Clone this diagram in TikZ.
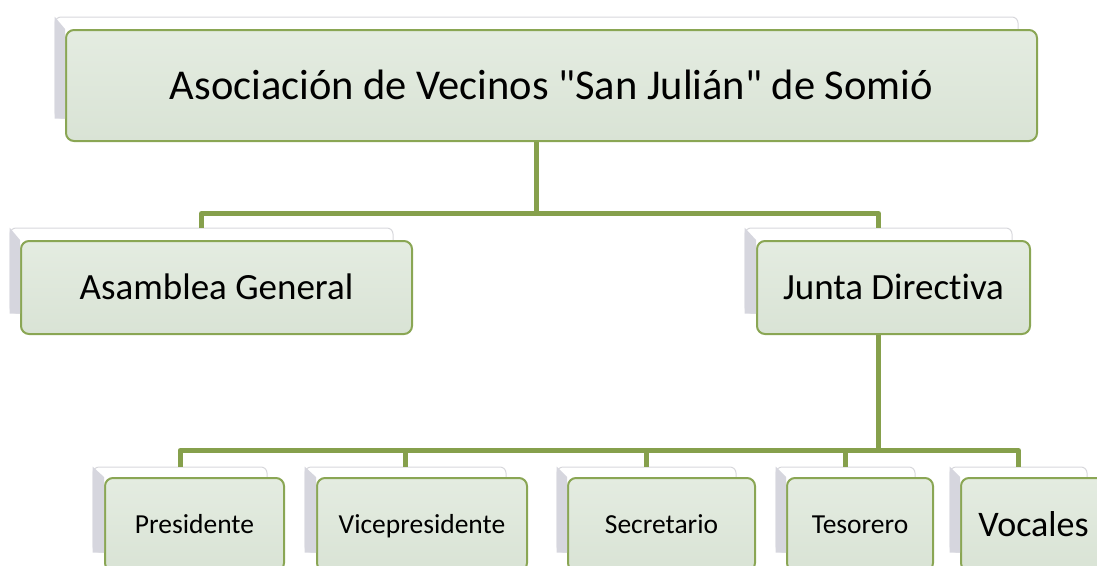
\documentclass[tikz,border=0pt]{standalone}
\usepackage{fontspec}
\newfontfamily\carl{Carlito}[Ligatures={NoCommon}]
\definecolor{conncol}{RGB}{134,160,76}
\definecolor{bordercol}{RGB}{138,166,84}
\definecolor{filltop}{RGB}{228,236,225}
\definecolor{fillbot}{RGB}{217,227,213}
\definecolor{sidecol}{RGB}{214,214,222}
\definecolor{backline}{RGB}{216,216,220}
\tikzset{
  conn/.style={draw=conncol, line width=5pt, line join=round},
  backcard/.style={draw=backline, fill=white, line width=1pt, rounded corners=6pt, inner sep=0pt},
  frontcard/.style={draw=bordercol, line width=2pt, rounded corners=8pt, top color=filltop, bottom color=fillbot, inner sep=0pt, text=black, align=center, text depth=0pt},
  sideface/.style={fill=sidecol},
  titletext/.style={font=\carl\fontsize{42.5}{48}\selectfont, text height=27.4pt},
  midtext/.style={font=\carl\fontsize{37}{42}\selectfont, text height=23.8pt},
  lowtext/.style={font=\carl\fontsize{27.5}{32}\selectfont, text height=17.7pt},
  bigtext/.style={font=\carl\fontsize{36}{42}\selectfont, text height=23.2pt},
}
\newcommand{\cardside}[2]{\fill[sideface] (#1.north west) -- (#2.north west) -- (#2.west |- #1.south) -- (#1.south west) -- cycle;}
\begin{document}
\begin{tikzpicture}[x=1pt,y=-1pt]
\useasboundingbox (0,0) rectangle (1097,565);
% back cards
\node[backcard, minimum width=963pt, minimum height=101pt] (tb) at (536.5,67.5) {};
\node[backcard, minimum width=383pt, minimum height=85pt] (agb) at (201.5,270.5) {};
\node[backcard, minimum width=267pt, minimum height=85pt] (jdb) at (878.5,270.5) {};
\node[backcard, minimum width=174pt, minimum height=85pt] (prb) at (180,509.5) {};
\node[backcard, minimum width=201pt, minimum height=85pt] (vpb) at (405.5,509.5) {};
\node[backcard, minimum width=179pt, minimum height=85pt] (seb) at (646.5,509.5) {};
\node[backcard, minimum width=139pt, minimum height=85pt] (teb) at (845.5,509.5) {};
\node[backcard, minimum width=137pt, minimum height=85pt] (vob) at (1018.5,509.5) {};
% connectors
\draw[conn] (tb.south) -- ++(0,95) -| (agb.north);
\draw[conn] (tb.south) ++(0,95) -| (jdb.north);
\draw[conn] (jdb.south) -- ++(0,137) -| (prb.north);
\draw[conn] (jdb.south) ++(0,137) -| (vpb.north);
\draw[conn] (jdb.south) ++(0,137) -| (seb.north);
\draw[conn] (jdb.south) ++(0,137) -| (teb.north);
\draw[conn] (jdb.south) ++(0,137) -| (vob.north);
% front cards
\node[frontcard, titletext, minimum width=971pt, minimum height=111pt] (t) at (551.5,85.5) {Asociación de Vecinos "San Julián" de Somió};
\node[frontcard, midtext, minimum width=391pt, minimum height=93pt] (ag) at (216.5,287.5) {Asamblea General};
\node[frontcard, midtext, minimum width=273pt, minimum height=93pt] (jd) at (893.5,287.5) {Junta Directiva};
\node[frontcard, lowtext, minimum width=179pt, minimum height=93pt] (pr) at (194.5,524.5) {Presidente};
\node[frontcard, lowtext, minimum width=210pt, minimum height=93pt] (vp) at (422,524.5) {Vicepresidente};
\node[frontcard, lowtext, minimum width=187pt, minimum height=93pt] (se) at (661.5,524.5) {Secretario};
\node[frontcard, lowtext, minimum width=146pt, minimum height=93pt] (te) at (860,524.5) {Tesorero};
\node[frontcard, bigtext, minimum width=145pt, minimum height=93pt] (vo) at (1033.5,524.5) {Vocales};
% side faces
\cardside{tb}{t}
\cardside{agb}{ag}
\cardside{jdb}{jd}
\cardside{prb}{pr}
\cardside{vpb}{vp}
\cardside{seb}{se}
\cardside{teb}{te}
\cardside{vob}{vo}
\end{tikzpicture}
\end{document}
